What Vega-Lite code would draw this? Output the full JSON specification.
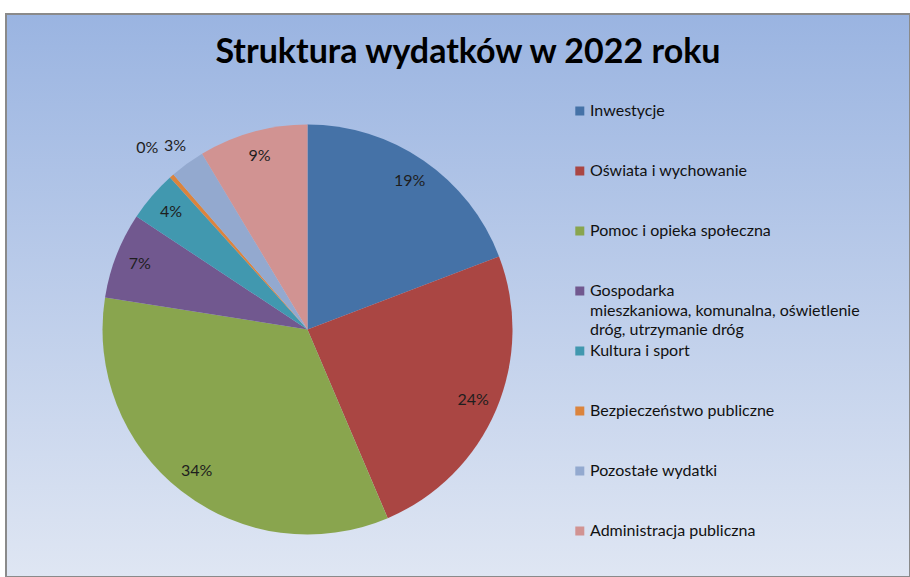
{
  "$schema": "https://vega.github.io/schema/vega-lite/v6.json",
  "width": 904,
  "height": 563,
  "autosize": {"type": "none"},
  "padding": {"left": 6, "top": 14, "right": 0, "bottom": 0},
  "background": "white",
  "view": {
    "fill": {"gradient": "linear", "x1": 0, "y1": 0, "x2": 0, "y2": 1,
      "stops": [{"offset": 0, "color": "#9ab4e1"}, {"offset": 1, "color": "#dfe6f3"}]},
    "stroke": "#8a8a8a",
    "strokeWidth": 2
  },
  "title": {
    "text": "Struktura wydatków w 2022 roku",
    "font": "Lato",
    "fontSize": 34,
    "fontWeight": "bold",
    "color": "#000000",
    "anchor": "middle",
    "dx": 10,
    "offset": -56
  },
  "data": {
    "values": [
      {"category": "Inwestycje", "value": 0.192},
      {"category": "Oświata  i  wychowanie", "value": 0.244},
      {"category": "Pomoc i opieka   społeczna", "value": 0.339},
      {"category": "Gospodarka\nmieszkaniowa,  komunalna,  oświetlenie\ndróg,  utrzymanie  dróg", "value": 0.068},
      {"category": "Kultura  i  sport", "value": 0.04},
      {"category": "Bezpieczeństwo   publiczne", "value": 0.0035},
      {"category": "Pozostałe wydatki", "value": 0.0275},
      {"category": "Administracja publiczna", "value": 0.086}
    ]
  },
  "layer": [
    {
      "transform": [{"stack": "value", "groupby": [], "as": ["v0", "v1"]}],
      "layer": [
        {
          "mark": {"type": "arc", "radius": 205, "xOffset": -150.5, "yOffset": 34},
          "encoding": {
            "theta": {"field": "v0", "type": "quantitative", "scale": {"domain": [0, 1]}},
            "theta2": {"field": "v1"},
            "color": {
              "field": "category", "type": "nominal", "legend": null,
              "scale": {
                "domain": ["Inwestycje", "Oświata  i  wychowanie", "Pomoc i opieka   społeczna", "Gospodarka\nmieszkaniowa,  komunalna,  oświetlenie\ndróg,  utrzymanie  dróg", "Kultura  i  sport", "Bezpieczeństwo   publiczne", "Pozostałe wydatki", "Administracja publiczna"],
                "range": ["#4572a7", "#aa4643", "#89a54e", "#71588f", "#4198af", "#db843d", "#93a9cf", "#d19392"]
              }
            }
          }
        },
        {
          "mark": {"type": "text", "xOffset": -150.5, "yOffset": 34, "font": "Lato", "fontSize": 16, "color": "#1e1e1e"},
          "encoding": {
            "theta": {"field": "value", "type": "quantitative", "stack": true, "scale": {"domain": [0, 1]}},
            "order": {"field": "v0", "type": "quantitative"},
            "radius": {"field": "value", "type": "quantitative",
              "scale": {"type": "linear", "domain": [0.0035, 0.0275, 0.035], "range": [242, 226, 180], "clamp": true, "zero": false}},
            "text": {"field": "value", "type": "quantitative", "format": ".0%"}
          }
        }
      ]
    },
    {
      "mark": {"type": "point", "shape": "square", "filled": true, "size": 81, "opacity": 1, "xOffset": 121.8},
      "encoding": {
        "y": {"field": "category", "type": "nominal", "sort": null, "axis": null,
          "scale": {"type": "point", "padding": 0, "range": [97, 517]}},
        "color": {"field": "category", "type": "nominal", "legend": null}
      }
    },
    {
      "mark": {"type": "text", "align": "left", "baseline": "top", "dy": -8, "xOffset": 132, "lineBreak": "\n", "lineHeight": 19.5, "font": "Lato", "fontSize": 16, "color": "#111111"},
      "encoding": {
        "y": {"field": "category", "type": "nominal", "sort": null, "axis": null,
          "scale": {"type": "point", "padding": 0, "range": [97, 517]}},
        "text": {"field": "category", "type": "nominal"}
      }
    }
  ]
}
